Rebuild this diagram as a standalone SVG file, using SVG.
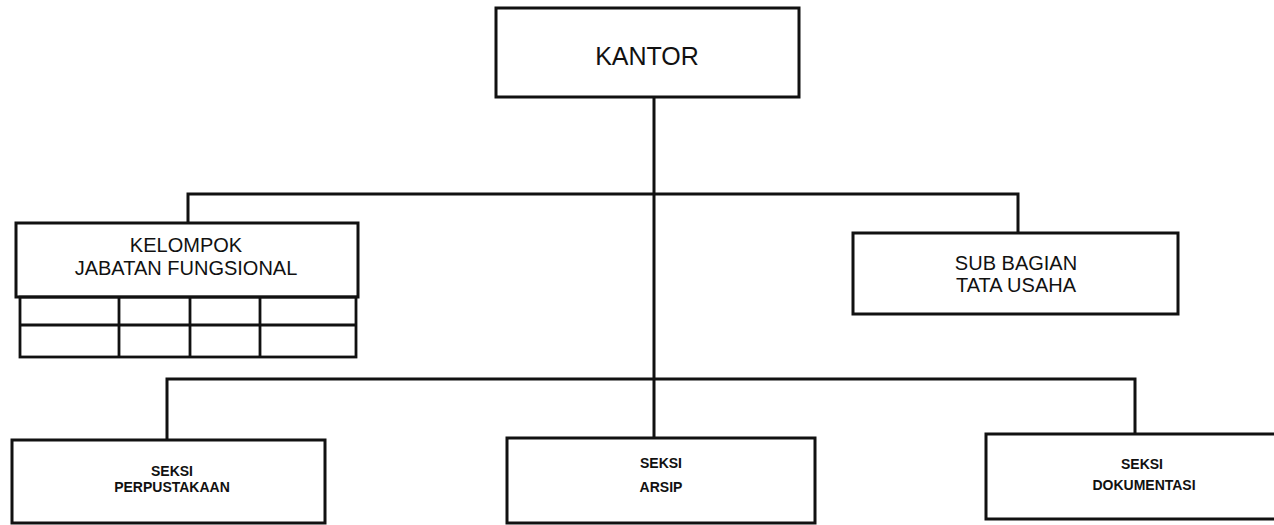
<svg xmlns="http://www.w3.org/2000/svg" width="1274" height="525" viewBox="0 0 1274 525">
<style>
.box{fill:#fff;stroke:#111;stroke-width:3}
.grid{fill:none;stroke:#111;stroke-width:2.8}
.conn{fill:none;stroke:#111;stroke-width:3}
.t{font-family:"Liberation Sans",Arial,sans-serif;fill:#111;text-anchor:middle}
.big{font-size:25px}
.mid{font-size:20px}
.sm{font-size:14px;font-weight:bold}
</style>
<rect x="0" y="0" width="1274" height="525" fill="#fff"/>
<g id="connectors">
<line class="conn" x1="654" y1="97" x2="654" y2="438"/>
<polyline class="conn" points="188,223 188,194 1018,194 1018,233"/>
<polyline class="conn" points="167,440 167,379 1135,379 1135,434"/>
</g>
<g id="kantor">
<rect class="box" x="496" y="8" width="303" height="89"/>
<text class="t big" x="647" y="65">KANTOR</text>
</g>
<g id="kelompok">
<rect class="box" x="16" y="223" width="342" height="74"/>
<text class="t mid" x="186" y="252">KELOMPOK</text>
<text class="t mid" x="186" y="275">JABATAN FUNGSIONAL</text>
<rect class="grid" x="20" y="297" width="336" height="60"/>
<line class="grid" x1="20" y1="325" x2="356" y2="325"/>
<line class="grid" x1="119" y1="297" x2="119" y2="357"/>
<line class="grid" x1="190" y1="297" x2="190" y2="357"/>
<line class="grid" x1="260" y1="297" x2="260" y2="357"/>
</g>
<g id="subbagian">
<rect class="box" x="853" y="233" width="325" height="81"/>
<text class="t mid" x="1016" y="270">SUB BAGIAN</text>
<text class="t mid" x="1016" y="292">TATA USAHA</text>
</g>
<g id="perpustakaan">
<rect class="box" x="12" y="440" width="313" height="83"/>
<text class="t sm" x="172" y="476">SEKSI</text>
<text class="t sm" x="172" y="492">PERPUSTAKAAN</text>
</g>
<g id="arsip">
<rect class="box" x="507" y="438" width="308" height="85"/>
<text class="t sm" x="661" y="468">SEKSI</text>
<text class="t sm" x="661" y="492">ARSIP</text>
</g>
<g id="dokumentasi">
<rect class="box" x="986" y="434" width="314" height="85"/>
<text class="t sm" x="1142" y="469">SEKSI</text>
<text class="t sm" x="1144" y="490">DOKUMENTASI</text>
</g>
</svg>
